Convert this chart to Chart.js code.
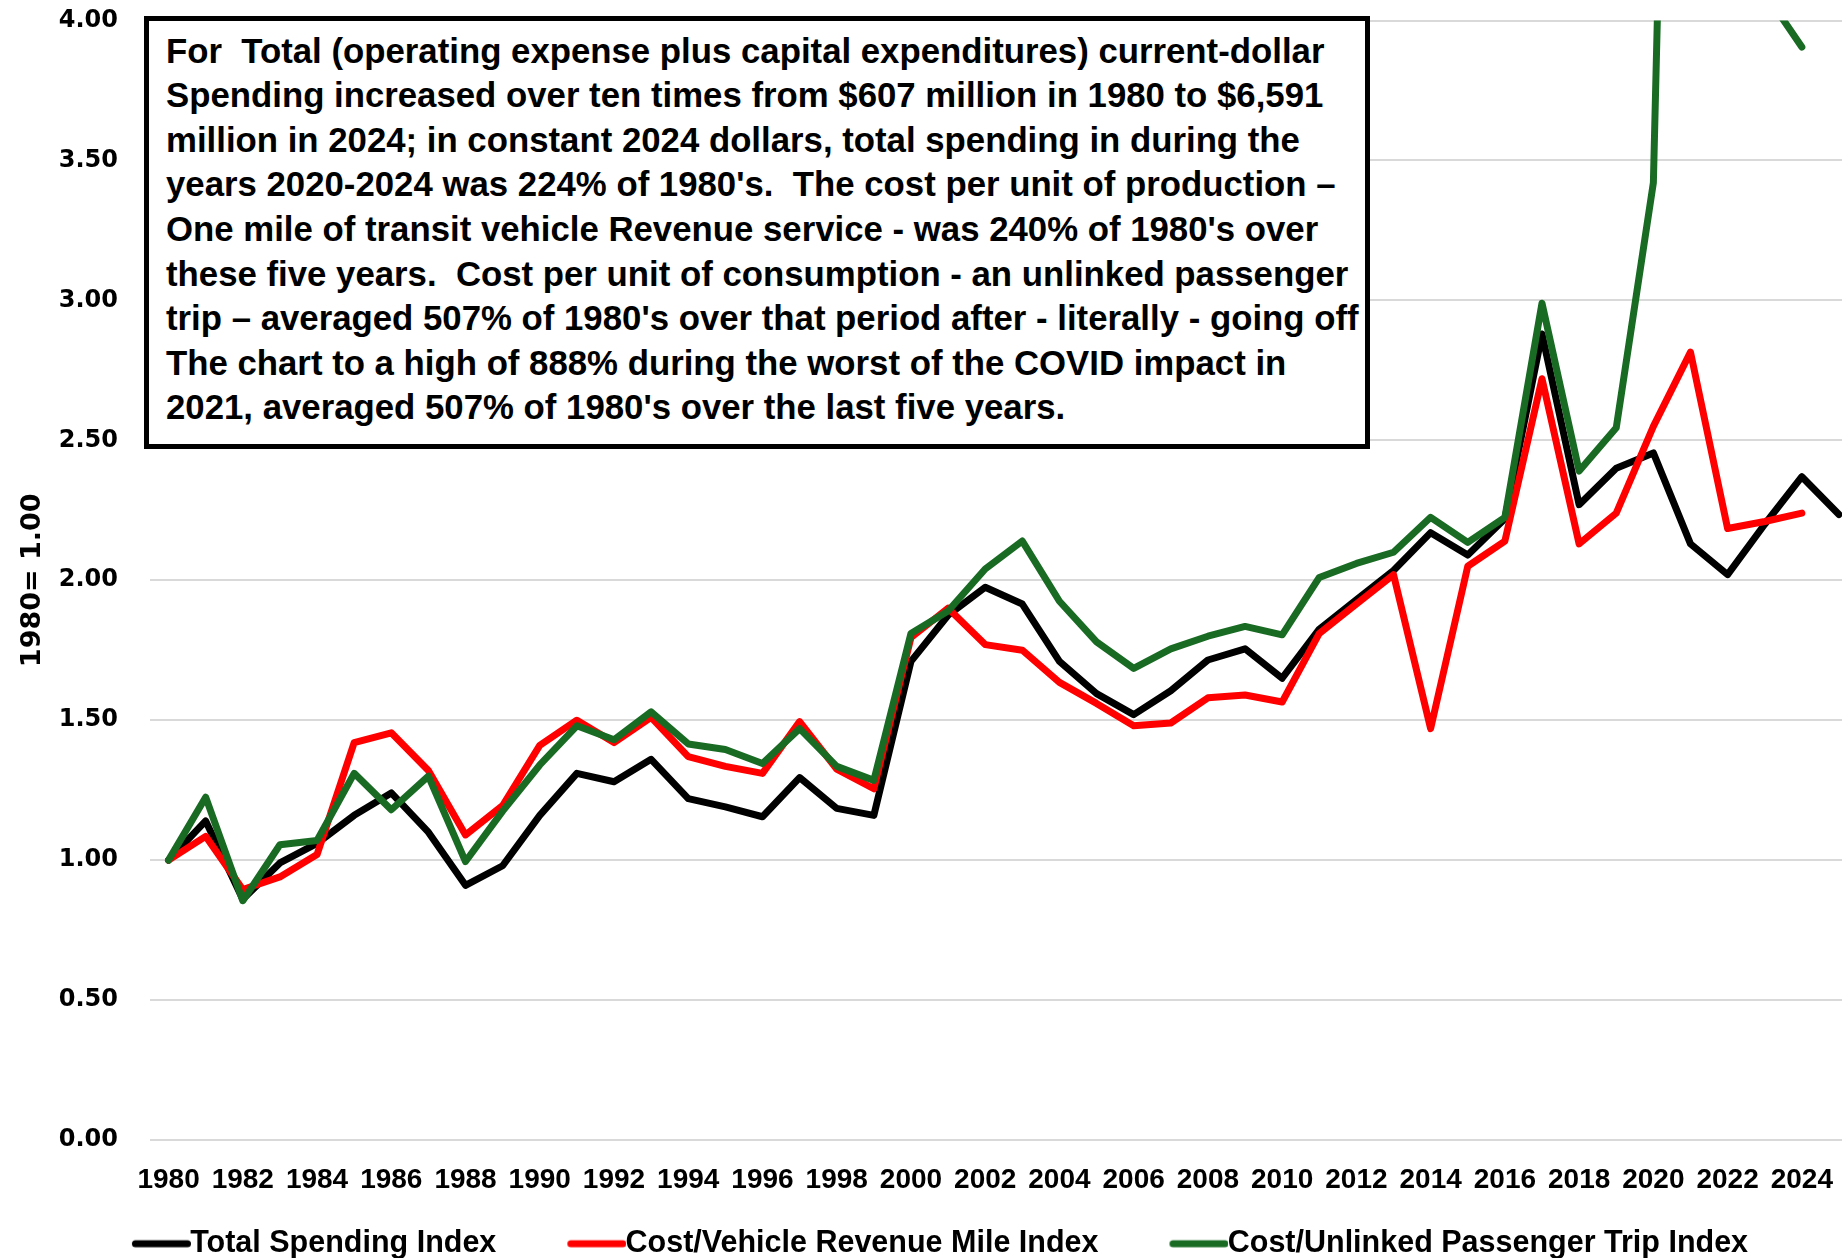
<!DOCTYPE html>
<html>
<head>
<meta charset="utf-8">
<title>Transit spending indices (1980 = 1.00)</title>
<script src="https://cdn.jsdelivr.net/npm/chart.js@4.4.1/dist/chart.umd.min.js"></script>
<style>
  html, body {
    margin: 0;
    padding: 0;
    background: #fff;
    overflow: hidden;
    width: 1842px;
    height: 1258px;
    position: relative;
  }
  /* chart is a bit wider/taller than the page, the edges get cut like the original */
  #chart-wrap {
    position: absolute;
    left: -40px;
    top: 0;
    width: 1902px;
    height: 1269px;
  }
  #note {
    position: absolute;
    left: 144px;
    top: 16px;
    width: 1226px;
    height: 433px;
    box-sizing: border-box;
    border: 5px solid #000;
    background: #fff;
    padding-left: 17px;
    font-family: "Liberation Sans", Arial, sans-serif;
    font-weight: bold;
    color: #000;
  }
  #note div {
    white-space: pre;
    line-height: 44.6px;
  }
</style>
</head>
<body>
<div id="chart-wrap"><canvas id="index-chart"></canvas></div>
<div id="note"></div>

<script>
// Categories
const years = [
    '1980', '1981', '1982', '1983', '1984', '1985', '1986', '1987', '1988', '1989',
    '1990', '1991', '1992', '1993', '1994', '1995', '1996', '1997', '1998', '1999',
    '2000', '2001', '2002', '2003', '2004', '2005', '2006', '2007', '2008', '2009',
    '2010', '2011', '2012', '2013', '2014', '2015', '2016', '2017', '2018', '2019',
    '2020', '2021', '2022', '2023', '2024', '2025'
];

// Series values (1980 = 1.00)
const totalSpending = [
    1.00, 1.14, 0.86, 0.99, 1.06, 1.16, 1.24, 1.10, 0.91, 0.98,
    1.16, 1.31, 1.28, 1.36, 1.22, 1.19, 1.155, 1.295, 1.185, 1.16,
    1.71, 1.875, 1.975, 1.915, 1.71, 1.595, 1.52, 1.605, 1.715, 1.755,
    1.65, 1.825, 1.93, 2.035, 2.17, 2.09, 2.22, 2.88, 2.27, 2.40,
    2.455, 2.13, 2.02, 2.20, 2.37, 2.235
];
const costPerRevenueMile = [
    1.00, 1.085, 0.895, 0.94, 1.02, 1.42, 1.455, 1.32, 1.09, 1.195,
    1.41, 1.50, 1.42, 1.51, 1.37, 1.335, 1.31, 1.495, 1.325, 1.255,
    1.795, 1.90, 1.77, 1.75, 1.635, 1.56, 1.48, 1.49, 1.58, 1.59,
    1.565, 1.81, 1.915, 2.02, 1.47, 2.05, 2.14, 2.72, 2.13, 2.24,
    2.55, 2.815, 2.185, 2.21, 2.24, null
];
const costPerPassengerTrip = [
    1.00, 1.225, 0.855, 1.055, 1.07, 1.31, 1.18, 1.30, 0.995, 1.175,
    1.34, 1.48, 1.43, 1.53, 1.415, 1.395, 1.345, 1.47, 1.335, 1.285,
    1.81, 1.89, 2.04, 2.14, 1.925, 1.78, 1.685, 1.755, 1.80, 1.835,
    1.805, 2.01, 2.06, 2.10, 2.225, 2.135, 2.225, 2.99, 2.39, 2.545,
    3.42, 8.88, 5.00, 4.10, 3.905, null
];

const seriesNames = [
    'Total Spending Index',
    'Cost/Vehicle Revenue Mile Index',
    'Cost/Unlinked Passenger Trip Index'
];
const seriesColors = ['#000000', '#ff0000', '#196b24'];

// Tick labels
const yTickValues = [0, 0.5, 1, 1.5, 2, 2.5, 3, 3.5, 4];
const yAxisTitle = '1980= 1.00';

// Text box
const noteLines = [
    'For  Total (operating expense plus capital expenditures) current-dollar',
    'Spending increased over ten times from $607 million in 1980 to $6,591',
    'million in 2024; in constant 2024 dollars, total spending in during the',
    "years 2020-2024 was 224% of 1980's.  The cost per unit of production \u2013",
    "One mile of transit vehicle Revenue service - was 240% of 1980's over",
    'these five years.  Cost per unit of consumption - an unlinked passenger',
    "trip \u2013 averaged 507% of 1980's over that period after - literally - going off",
    'The chart to a high of 888% during the worst of the COVID impact in',
    "2021, averaged 507% of 1980's over the last five years."
];

// Build the note box, font sized so the widest line fits like the original
function buildNote() {
    const note = document.getElementById('note');
    const mctx = document.createElement('canvas').getContext('2d');
    mctx.font = 'bold 100px "Liberation Sans"';
    const widest = Math.max(...noteLines.map(l => mctx.measureText(l).width));
    const size = 100 * 1193 / widest;
    note.style.fontSize = size.toFixed(2) + 'px';
    // first baseline around y=63
    const baseInLine = 22.3 + 0.3465 * size;
    note.style.paddingTop = Math.max(0, 63 - 21 - baseInLine).toFixed(1) + 'px';
    noteLines.forEach(line => {
        const d = document.createElement('div');
        d.textContent = line;
        note.appendChild(d);
    });
}

// Legend swatch: thick rounded line, drawn as a small image
function makeSwatch(color) {
    const c = document.createElement('canvas');
    c.width = 136;
    c.height = 12;
    const g = c.getContext('2d');
    g.strokeStyle = color;
    g.lineWidth = 7;
    g.lineCap = 'round';
    g.beginPath();
    g.moveTo(80.5, 6);
    g.lineTo(132.5, 6);
    g.stroke();
    return c;
}
const swatches = seriesColors.map(makeSwatch);

function lineDataset(i, data, order) {
    return {
        label: seriesNames[i],
        data: data,
        borderColor: seriesColors[i],
        backgroundColor: seriesColors[i],
        borderWidth: 7,
        borderJoinStyle: 'round',
        borderCapStyle: 'round',
        pointRadius: 0,
        pointHoverRadius: 0,
        tension: 0,
        fill: false,
        order: order
    };
}

function initChart() {
    const ctx = document.getElementById('index-chart').getContext('2d');

    new Chart(ctx, {
        type: 'line',
        data: {
            labels: years,
            datasets: [
                lineDataset(0, totalSpending, 2),
                lineDataset(1, costPerRevenueMile, 1),
                lineDataset(2, costPerPassengerTrip, 0)
            ]
        },
        options: {
            responsive: true,
            maintainAspectRatio: false,
            animation: false,
            layout: {
                padding: { top: 20.5, right: 3, bottom: 0, left: 0 }
            },
            plugins: {
                tooltip: { enabled: false },
                legend: {
                    display: true,
                    position: 'bottom',
                    labels: {
                        color: '#000',
                        font: { family: '"Liberation Sans", Arial, sans-serif', size: 30.5, weight: 'bold' },
                        usePointStyle: true,
                        pointStyleWidth: 104,
                        boxHeight: 30,
                        padding: 10,
                        sort: (a, b) => a.datasetIndex - b.datasetIndex,
                        generateLabels: (chart) => {
                            const items = Chart.defaults.plugins.legend.labels.generateLabels(chart);
                            items.forEach(it => { it.pointStyle = swatches[it.datasetIndex]; });
                            return items;
                        }
                    }
                }
            },
            scales: {
                x: {
                    type: 'category',
                    offset: true,
                    grid: { display: false, drawTicks: false },
                    border: { display: false },
                    ticks: {
                        autoSkip: false,
                        maxRotation: 0,
                        minRotation: 0,
                        padding: 23,
                        color: '#000',
                        font: { family: '"Liberation Sans", Arial, sans-serif', size: 28, weight: 'bold' },
                        callback: function(val, i) {
                            return i % 2 === 0 ? this.getLabelForValue(val) : '';
                        }
                    },
                    afterFit: (axis) => { axis.height = 78.5; }
                },
                y: {
                    min: 0,
                    max: 4,
                    grid: { color: '#d9d9d9', lineWidth: 2, drawTicks: false },
                    border: { display: false },
                    afterBuildTicks: (axis) => {
                        axis.ticks = yTickValues.map(v => ({ value: v }));
                    },
                    ticks: {
                        padding: 32,
                        color: '#000',
                        font: { family: '"DejaVu Sans", sans-serif', size: 24, weight: 'bold' },
                        callback: (val) => Number(val).toFixed(2)
                    },
                    title: {
                        display: true,
                        text: yAxisTitle,
                        color: '#000',
                        font: { family: '"DejaVu Sans", sans-serif', size: 27, weight: 'bold' },
                        padding: { top: 56.5, bottom: 0 }
                    },
                    afterFit: (axis) => {
                        axis.width = 190;
                        // keep the label overhang from pushing the plot down
                        axis.paddingTop = 0;
                        axis.paddingBottom = 0;
                    }
                }
            }
        }
    });
}

buildNote();
initChart();
</script>
</body>
</html>
